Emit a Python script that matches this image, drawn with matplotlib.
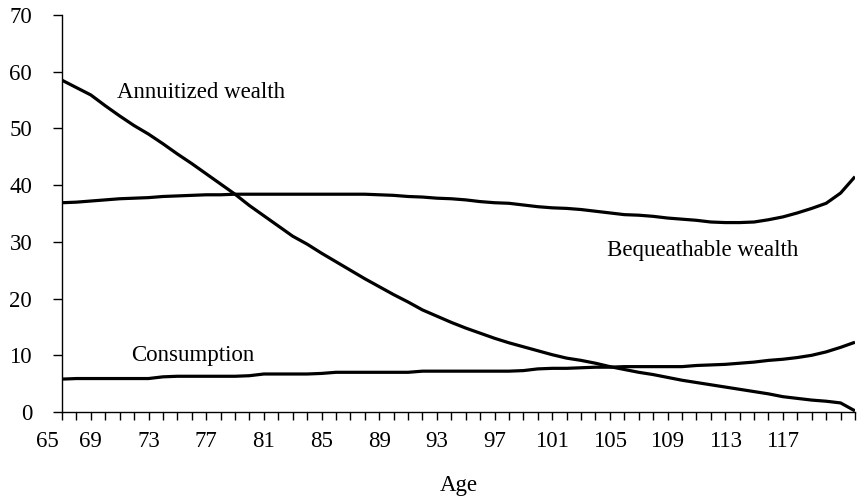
import matplotlib
matplotlib.use("Agg")
import matplotlib.pyplot as plt
import matplotlib.transforms as mtransforms
from matplotlib.ticker import MultipleLocator, FixedLocator, FixedFormatter

ages = list(range(67, 123))
annuitized = [58.5, 57.2, 55.9, 54.0, 52.2, 50.5, 49.0, 47.3, 45.5, 43.8,
              42.0, 40.2, 38.4, 36.4, 34.6, 32.8, 31.0, 29.6, 28.0, 26.5,
              25.0, 23.5, 22.1, 20.7, 19.4, 18.0, 16.9, 15.8, 14.8, 13.9,
              13.0, 12.2, 11.5, 10.8, 10.1, 9.5, 9.1, 8.6, 8.0, 7.5,
              7.0, 6.6, 6.1, 5.6, 5.2, 4.8, 4.4, 4.0, 3.6, 3.2,
              2.7, 2.4, 2.1, 1.9, 1.6, 0.2]
bequeathable = [36.9, 37.0, 37.2, 37.4, 37.6, 37.7, 37.8, 38.0, 38.1, 38.2,
                38.3, 38.3, 38.4, 38.4, 38.4, 38.4, 38.4, 38.4, 38.4, 38.4,
                38.4, 38.4, 38.3, 38.2, 38.0, 37.9, 37.7, 37.6, 37.4, 37.1,
                36.9, 36.8, 36.5, 36.2, 36.0, 35.9, 35.7, 35.4, 35.1, 34.8,
                34.7, 34.5, 34.2, 34.0, 33.8, 33.5, 33.4, 33.4, 33.5, 33.9,
                34.4, 35.1, 35.9, 36.8, 38.6, 41.5]
consumption = [5.8, 5.9, 5.9, 5.9, 5.9, 5.9, 5.9, 6.2, 6.3, 6.3,
               6.3, 6.3, 6.3, 6.4, 6.7, 6.7, 6.7, 6.7, 6.8, 7.0,
               7.0, 7.0, 7.0, 7.0, 7.0, 7.2, 7.2, 7.2, 7.2, 7.2,
               7.2, 7.2, 7.3, 7.6, 7.7, 7.7, 7.8, 7.9, 7.9, 8.0,
               8.0, 8.0, 8.0, 8.0, 8.2, 8.3, 8.4, 8.6, 8.8, 9.1,
               9.3, 9.6, 10.0, 10.6, 11.4, 12.3]

xtick_values = list(range(69, 118, 4))
xtick_labels = [str(v) for v in xtick_values]
first_label = "65"
ytick_values = list(range(0, 71, 10))

plt.rcParams['font.family'] = ['Liberation Serif', 'DejaVu Serif']
FS = 16.5

fig = plt.figure(figsize=(8.62, 4.97), dpi=100)
ax = fig.add_axes([62/862, 1-412/497, (855-62)/862, (412-15)/497])

lw = 2.3
ax.plot(ages, annuitized, color='black', lw=lw, solid_capstyle='butt')
ax.plot(ages, bequeathable, color='black', lw=lw, solid_capstyle='butt')
ax.plot(ages, consumption, color='black', lw=lw, solid_capstyle='butt')

ax.set_xlim(67, 122)
ax.set_ylim(0, 70)
for s in ['top', 'right']:
    ax.spines[s].set_visible(False)
for s in ['left', 'bottom']:
    ax.spines[s].set_linewidth(1.0)
    ax.spines[s].set_color('black')

ax.xaxis.set_major_locator(FixedLocator(xtick_values))
ax.xaxis.set_major_formatter(FixedFormatter(xtick_labels))
ax.xaxis.set_minor_locator(MultipleLocator(1))
ax.tick_params(axis='x', which='both', direction='out', length=6, width=1,
               labelsize=FS, pad=8)
ax.set_yticks(ytick_values)
ax.tick_params(axis='y', which='major', direction='out', length=6.5, width=1,
               labelsize=FS, pad=15)

trans = mtransforms.blended_transform_factory(ax.transData, ax.transAxes)
ax.text(66.0, 0, first_label, transform=trans, ha='center', va='top',
        fontsize=FS)
fig.canvas.draw()
lab = ax.xaxis.get_majorticklabels()[0]
bb = lab.get_window_extent()
for t in ax.texts:
    if t.get_text() == first_label:
        inv = ax.transAxes.inverted()
        ytop = inv.transform((0, bb.y1))[1]
        t.set_position((66.0, ytop))

ax.set_xlabel("Age", fontsize=FS, labelpad=16)

ax.text(70.8, 56.3, "Annuitized wealth", fontsize=FS, ha='left', va='center')
ax.text(104.8, 28.5, "Bequeathable wealth", fontsize=FS, ha='left', va='center')
ax.text(71.8, 9.9, "Consumption", fontsize=FS, ha='left', va='center')

fig.savefig("out.png", dpi=100)
